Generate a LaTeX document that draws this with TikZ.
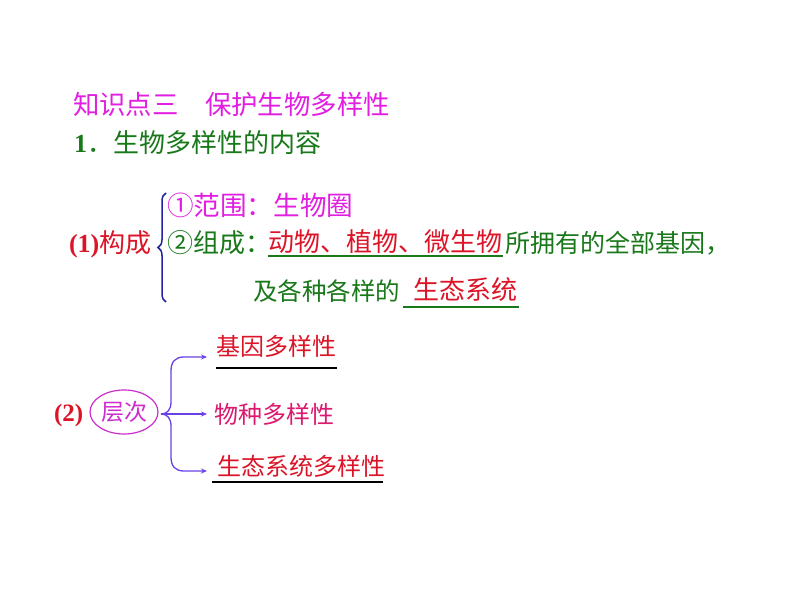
\documentclass[tikz,border=0pt]{standalone}
\usepackage{fontspec}
\setmainfont{Liberation Serif}
\newfontfamily\cjk{Noto Sans CJK SC}
\usetikzlibrary{shapes.geometric,decorations.pathreplacing,arrows.meta}
\definecolor{magt}{RGB}{225,30,225}
\definecolor{dgreen}{RGB}{25,120,25}
\definecolor{redt}{RGB}{220,20,40}
\definecolor{crim}{RGB}{220,25,110}
\definecolor{braceblue}{RGB}{35,35,160}
\definecolor{conn}{RGB}{105,65,230}
\definecolor{ellc}{RGB}{205,45,205}
\begin{document}
\begin{tikzpicture}[x=1pt,y=-1pt,
  txt/.style={anchor=base west, inner sep=0pt, outer sep=0pt},
  big/.style={font=\cjk\fontsize{26}{26}\selectfont},
  mid/.style={font=\cjk\fontsize{24.5}{24}\selectfont},
  sml/.style={font=\cjk\fontsize{24}{24}\selectfont},
  connline/.style={draw=conn, line width=1.3pt},
  arr/.style={connline, -{Stealth[length=6pt,width=5pt]}},
  ulg/.style={draw=dgreen, line width=2pt},
  ulk/.style={draw=black, line width=1.6pt}]
\useasboundingbox[fill=white] (0,0) rectangle (794,596);
% title
\node[txt, text=magt, font=\cjk\fontsize{26.4}{26}\selectfont] (title) at (73,115) {知识点三　保护生物多样性};
\node[txt, text=dgreen, font=\fontsize{26}{26}\selectfont] (h1) at (74,153) {\textbf{1}{\cjk ．生物多样性的内容}};
% part (1)
\node[txt, text=redt, font=\fontsize{26}{26}\selectfont] (p1) at (69,252) {\textbf{(1)}{\cjk 构成}};
\draw[braceblue, line width=1.5pt, decorate, decoration={brace, amplitude=8pt, aspect=0.5}] (166,302) -- (166,193);
\node[txt, text=magt, font=\cjk\fontsize{26.6}{26}\selectfont] (r1) at (167,215) {①范围：生物圈};
\node[txt, big, text=dgreen] (r2a) at (167,252) {②组成：};
\node[txt, big, text=redt] (r2b) at (268,251) {动物、植物、微生物};
\node[txt, text=dgreen, font=\cjk\fontsize{25}{25}\selectfont] (r2c) at (505,252) {所拥有的全部基因，};
\coordinate (u1s) at (268,256);
\coordinate (u1e) at (503,256);
\draw[ulg] (u1s) -- (u1e);
\node[txt, mid, text=dgreen] (r3a) at (253,300) {及各种各样的};
\node[txt, big, text=redt] (r3b) at (413,299) {生态系统};
\coordinate (u2s) at (403,307);
\coordinate (u2e) at (519,307);
\draw[ulg] (u2s) -- (u2e);
% part (2)
\node[txt, text=redt, font=\bfseries\fontsize{25}{25}\selectfont] (p2) at (54,421) {(2)};
\node[draw=ellc, line width=1.2pt, ellipse, minimum width=68pt, minimum height=44pt, inner sep=0pt,
      text=ellc, font=\cjk\fontsize{23}{23}\selectfont] (lc) at (124,412) {层次};
\coordinate (tip) at (161,414);
\coordinate (a1) at (207,357);
\coordinate (a2) at (207,414);
\coordinate (a3) at (207,471);
\draw[arr] (tip) .. controls (167,414) and (171,410) .. (171,402) -- (171,371)
  .. controls (171,362) and (175,357) .. (184,357) -- (a1);
\draw[arr] (tip) -- (a2);
\draw[arr] (tip) .. controls (167,414) and (171,418) .. (171,426) -- (171,457)
  .. controls (171,466) and (175,471) .. (184,471) -- (a3);
\node[txt, sml, text=redt] (g1) at (216,355) {基因多样性};
\coordinate (u3s) at (216,368);
\coordinate (u3e) at (337,368);
\draw[ulk] (u3s) -- (u3e);
\node[txt, sml, text=crim] (g2) at (214,423) {物种多样性};
\node[txt, sml, text=redt] (g3) at (217,475) {生态系统多样性};
\coordinate (u4s) at (212,482);
\coordinate (u4e) at (383,482);
\draw[ulk] (u4s) -- (u4e);
\end{tikzpicture}
\end{document}
